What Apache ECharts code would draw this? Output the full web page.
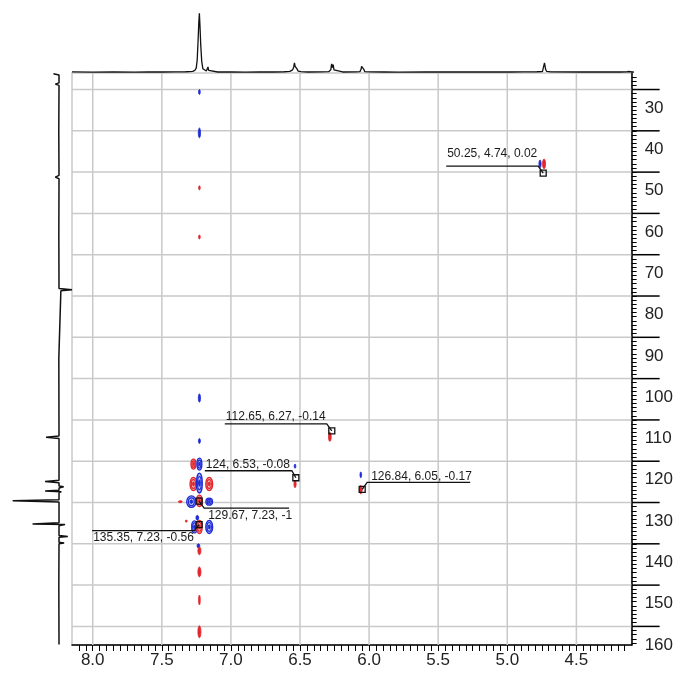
<!DOCTYPE html>
<html><head><meta charset="utf-8">
<script src="https://cdn.jsdelivr.net/npm/echarts@6/dist/echarts.min.js"></script>
<style>html,body{margin:0;padding:0;background:#fff}#c{width:676px;height:675px}</style>
</head><body><div id="c"></div>
<script>
// ---- axis ranges (ppm) ----
const H_MIN = 4.1, H_MAX = 8.15;      // 1H (x, inverted)
const C_MIN = 26, C_MAX = 164.5;      // 13C (y, inverted)

// ---- tick labels / grid values ----
const hTicks = [4.5, 5.0, 5.5, 6.0, 6.5, 7.0, 7.5, 8.0];
const hTickLabels = ['4.5', '5.0', '5.5', '6.0', '6.5', '7.0', '7.5', '8.0'];
const cTicks = [30, 40, 50, 60, 70, 80, 90, 100, 110, 120, 130, 140, 150, 160];
const cTickLabels = ['30', '40', '50', '60', '70', '80', '90', '100', '110', '120', '130', '140', '150', '160'];

// ---- 2D cross peaks: 1H shift, 13C shift, half-extent in 1H (ppm), half-extent in 13C (ppm), phase ----
const peakH  = [7.228, 7.228, 7.228, 7.228, 7.228, 7.228, 7.271, 7.228, 7.271, 7.228, 7.157, 7.286, 7.228, 7.157, 7.366, 7.243, 7.264, 7.228, 7.157, 7.323, 7.235, 7.228, 7.228, 7.228, 7.228, 6.536, 6.536, 6.284, 6.060, 6.060, 4.763, 4.734];
const peakC  = [30.6, 40.5, 53.8, 65.7, 104.7, 115.1, 120.7, 120.7, 125.5, 125.3, 125.5, 129.8, 129.6, 129.8, 129.8, 133.7, 135.9, 135.9, 135.9, 134.5, 140.5, 141.7, 146.8, 153.6, 161.3, 121.2, 125.5, 114.1, 123.3, 126.9, 48.0, 48.0];
const peakDH = [0.006, 0.008, 0.006, 0.006, 0.008, 0.007, 0.018, 0.018, 0.025, 0.021, 0.025, 0.034, 0.020, 0.024, 0.014, 0.010, 0.020, 0.020, 0.025, 0.007, 0.010, 0.011, 0.011, 0.006, 0.011, 0.006, 0.008, 0.010, 0.006, 0.010, 0.008, 0.011];
const peakDC = [0.6, 1.2, 0.5, 0.5, 1.0, 0.6, 1.2, 1.45, 1.6, 2.4, 1.6, 1.4, 1.4, 0.85, 0.25, 0.6, 1.45, 1.6, 1.6, 0.25, 0.5, 0.95, 1.2, 1.2, 1.45, 0.5, 0.9, 1.1, 0.7, 1.0, 0.95, 1.2];
const peakPhase = [-1, -1, 1, 1, -1, -1, 1, -1, 1, -1, 1, -1, 1, -1, 1, -1, -1, 1, -1, 1, -1, 1, 1, 1, 1, -1, 1, 1, -1, 1, -1, 1];

// ---- annotated peaks ----
const annC = [50.25, 112.65, 124, 126.84, 129.67, 135.35];
const annH = [4.74, 6.27, 6.53, 6.05, 7.23, 7.23];
const annI = [0.02, -0.14, -0.08, -0.17, -1, -0.56];

// ---- 1H projection (top) ----
const hSpecPpm = [8.15, 8.0, 7.85, 7.7, 7.6, 7.5, 7.4, 7.33, 7.3, 7.28, 7.265, 7.255, 7.248, 7.242, 7.236, 7.232, 7.228, 7.222, 7.215, 7.207, 7.195, 7.182, 7.175, 7.17, 7.165, 7.155, 7.1, 7.0, 6.9, 6.8, 6.7, 6.62, 6.58, 6.56, 6.552, 6.547, 6.542, 6.537, 6.53, 6.52, 6.5, 6.45, 6.35, 6.3, 6.285, 6.279, 6.274, 6.268, 6.262, 6.25, 6.2, 6.1, 6.075, 6.067, 6.063, 6.058, 6.052, 6.047, 6.04, 6.0, 5.9, 5.8, 5.6, 5.4, 5.2, 5.0, 4.9, 4.8, 4.76, 4.75, 4.745, 4.741, 4.737, 4.73, 4.7, 4.5, 4.3, 4.2, 4.15, 4.13, 4.11, 4.1];
const hSpecInt = [0.005, 0.003, 0.006, 0.002, 0.005, 0.004, 0.006, 0.008, 0.01, 0.015, 0.03, 0.07, 0.2, 0.5, 0.85, 1.0, 0.8, 0.45, 0.18, 0.06, 0.03, 0.02, 0.04, 0.09, 0.03, 0.01, 0.004, 0.006, 0.003, 0.005, 0.004, 0.008, 0.015, 0.04, 0.09, 0.16, 0.1, 0.13, 0.06, 0.02, 0.01, 0.004, 0.005, 0.01, 0.04, 0.14, 0.08, 0.13, 0.04, 0.01, 0.004, 0.006, 0.01, 0.05, 0.1, 0.11, 0.1, 0.05, 0.01, 0.005, 0.004, 0.003, 0.005, 0.004, 0.006, 0.004, 0.006, 0.008, 0.01, 0.04, 0.16, 0.17, 0.05, 0.015, 0.006, 0.004, 0.005, 0.004, 0.008, 0.012, 0.004, 0];

// ---- 13C projection (left) ----
const cSpecPpm = [26.2, 26.5, 28.4, 28.7, 29.0, 40, 50.8, 51.2, 51.6, 65, 78.2, 78.5, 78.7, 79.0, 95, 113.9, 114.2, 114.5, 124.6, 124.9, 125.2, 126.0, 126.2, 126.5, 127.0, 127.2, 127.4, 127.6, 129.3, 129.6, 129.9, 134.9, 135.2, 135.35, 135.6, 138.0, 138.2, 138.4, 139.6, 139.8, 140.0, 150, 164.4];
const cSpecInt = [0.12, 0, 0, 0.08, 0, 0.005, 0, 0.08, 0, 0.004, 0, -0.28, -0.04, 0, 0.004, 0, 0.28, 0, 0, 0.3, 0, 0, -0.1, 0, 0, 0.3, -0.05, 0, 0, 1.0, 0, 0, 0.57, -0.13, 0, 0, -0.19, 0, 0, -0.11, 0, 0.004, 0];

// ---- styles / layout (not data) ----
const RED = '#e2262c', RED_L = 'rgba(238,110,112,0.55)';
const BLUE = '#1d2bd6', BLUE_L = 'rgba(110,118,232,0.55)';
const GRID_COL = '#c9c9c9';
const FONT = '"Liberation Sans", Arial, sans-serif';
// leader-line geometry in px, relative to the marker
const annLayout = [
  { elbow: [-5, -7], end: -97, textFromEnd: true, textDy: -12 },
  { elbow: [-5, -7], end: -107, textFromEnd: true, textDy: -7 },
  { elbow: [-4, -7], end: -91, textFromEnd: true, textDy: -6.5 },
  { elbow: [5, -7], end: 108, textFromEnd: false, textDy: -6 },
  { elbow: [5, 7], end: 90, textFromEnd: false, textDy: 7.5 },
  { elbow: [-5, 6], end: -107, textFromEnd: true, textDy: 7 }
];

const peakData = peakH.map((h, i) => [h, peakC[i], peakDH[i], peakDC[i], peakPhase[i]]);
const annData = annH.map((h, i) => [h, annC[i]]);
const annText = annH.map((h, i) => `${annC[i]}, ${h}, ${annI[i]}`);
const hSpecData = hSpecPpm.map((p, i) => [p, hSpecInt[i]]);
const cSpecData = cSpecPpm.map((p, i) => [cSpecInt[i], p]);

function matchLabel(v, ticks, labels) {
  const k = ticks.findIndex(t => Math.abs(t - v) < 1e-6);
  return k >= 0 ? labels[k] : '';
}

const chart = echarts.init(document.getElementById('c'), null, { renderer: 'canvas' });
chart.setOption({
  animation: false,
  backgroundColor: '#fff',
  grid: [
    { left: 72, right: 42, top: 73, bottom: 30, show: true, borderColor: GRID_COL, borderWidth: 1.5, backgroundColor: 'transparent' },
    { left: 72, right: 42, top: 12, height: 62 },
    { left: 8, width: 64, top: 73, bottom: 30 }
  ],
  xAxis: [
    {
      gridIndex: 0, type: 'value', inverse: true, min: H_MIN, max: H_MAX, interval: 0.05,
      axisLine: { show: true, onZero: false, lineStyle: { color: '#000', width: 1.5 } },
      axisTick: { show: true, length: 6, lineStyle: { color: '#000', width: 1 } },
      axisLabel: {
        margin: 7, fontSize: 17, color: '#222', fontFamily: FONT,
        showMinLabel: false, showMaxLabel: false,
        formatter: v => matchLabel(v, hTicks, hTickLabels)
      },
      splitLine: { show: false }
    },
    { gridIndex: 1, type: 'value', inverse: true, min: H_MIN, max: H_MAX, show: false },
    { gridIndex: 2, type: 'value', inverse: true, min: -0.28, max: 1.1, show: false }
  ],
  yAxis: [
    {
      gridIndex: 0, type: 'value', inverse: true, position: 'right', min: C_MIN, max: C_MAX, interval: 1,
      axisLine: { show: true, onZero: false, lineStyle: { color: '#000', width: 1.5 } },
      axisTick: { show: true, length: 5, lineStyle: { color: '#000', width: 1 } },
      axisLabel: {
        margin: 13, fontSize: 17, color: '#222', fontFamily: FONT,
        verticalAlign: 'top', padding: [10, 0, 0, 0],
        showMinLabel: false, showMaxLabel: false,
        formatter: v => matchLabel(v, cTicks, cTickLabels)
      },
      splitLine: { show: false }
    },
    { gridIndex: 1, type: 'value', min: -0.03, max: 1.02, show: false },
    { gridIndex: 2, type: 'value', inverse: true, min: C_MIN, max: C_MAX, show: false }
  ],
  series: [
    // vertical grid lines
    {
      type: 'custom', xAxisIndex: 0, yAxisIndex: 0, z: 1, silent: true,
      data: hTicks.map(v => [v, C_MIN]),
      renderItem: (params, api) => {
        const cs = params.coordSys;
        const x = api.coord([api.value(0), api.value(1)])[0];
        return { type: 'line', shape: { x1: x, y1: cs.y, x2: x, y2: cs.y + cs.height },
          style: { stroke: GRID_COL, lineWidth: 1.5 } };
      }
    },
    // horizontal grid lines + major ticks on the right axis
    {
      type: 'custom', xAxisIndex: 0, yAxisIndex: 0, z: 1, silent: true,
      data: cTicks.map(v => [H_MIN, v]),
      renderItem: (params, api) => {
        const cs = params.coordSys;
        const y = api.coord([api.value(0), api.value(1)])[1];
        const r = cs.x + cs.width;
        return { type: 'group', children: [
          { type: 'line', shape: { x1: cs.x, y1: y, x2: r, y2: y }, style: { stroke: GRID_COL, lineWidth: 1.5 } },
          { type: 'line', shape: { x1: r, y1: y, x2: r + 28, y2: y }, style: { stroke: '#000', lineWidth: 1.5 }, z2: 10 }
        ] };
      }
    },
    // contour peaks
    {
      type: 'custom', xAxisIndex: 0, yAxisIndex: 0, z: 3, silent: true,
      data: peakData,
      renderItem: (params, api) => {
        const c = api.coord([api.value(0), api.value(1)]);
        const s = api.size([api.value(2), api.value(3)]);
        const rx = Math.max(Math.abs(s[0]), 0.7), ry = Math.max(Math.abs(s[1]), 0.9);
        const pos = api.value(4) > 0;
        const col = pos ? RED : BLUE, light = pos ? RED_L : BLUE_L;
        const ch = [{ type: 'ellipse', shape: { cx: c[0], cy: c[1], rx: rx, ry: ry },
          style: { fill: rx > 2 ? light : col, stroke: col, lineWidth: rx > 2 ? 1.3 : 0.8 } }];
        if (rx > 2 && ry > 3) {
          ch.push({ type: 'ellipse', shape: { cx: c[0], cy: c[1], rx: rx * 0.62, ry: ry * 0.66 },
            style: { fill: 'rgba(255,255,255,0.35)', stroke: col, lineWidth: 1.2 } });
          ch.push({ type: 'ellipse', shape: { cx: c[0], cy: c[1], rx: rx * 0.28, ry: ry * 0.32 },
            style: { fill: col, stroke: col, lineWidth: 1 } });
        }
        return { type: 'group', children: ch };
      }
    },
    // annotations
    {
      type: 'custom', xAxisIndex: 0, yAxisIndex: 0, z: 5, silent: true,
      data: annData,
      renderItem: (params, api) => {
        const i = params.dataIndex;
        const p = api.coord([api.value(0), api.value(1)]);
        const L = annLayout[i];
        const ex = p[0] + L.elbow[0], ey = p[1] + L.elbow[1];
        const lx = p[0] + L.end;
        const tx = L.textFromEnd ? (L.end < 0 ? lx + 1 : ex + 4) : ex + 4;
        return { type: 'group', children: [
          { type: 'polyline', shape: { points: [[p[0], p[1]], [ex, ey], [lx, ey]] },
            style: { stroke: '#111', lineWidth: 1.3, fill: null } },
          { type: 'rect', shape: { x: p[0] - 3, y: p[1] - 3, width: 6, height: 6 },
            style: { stroke: '#111', lineWidth: 1.3, fill: null } },
          { type: 'text', style: { text: annText[i], x: tx, y: ey + L.textDy,
            fill: '#1a1a1a', font: '12px ' + FONT, align: 'left', verticalAlign: 'middle' } }
        ] };
      }
    },
    // top 1H projection
    {
      type: 'line', xAxisIndex: 1, yAxisIndex: 1, data: hSpecData, showSymbol: false, symbol: 'none',
      clip: false, lineStyle: { color: '#111', width: 1.3 }, silent: true
    },
    // left 13C projection
    {
      type: 'line', xAxisIndex: 2, yAxisIndex: 2, data: cSpecData, showSymbol: false, symbol: 'none',
      clip: false, lineStyle: { color: '#111', width: 1.5 }, silent: true
    }
  ]
});
</script>
</body></html>
